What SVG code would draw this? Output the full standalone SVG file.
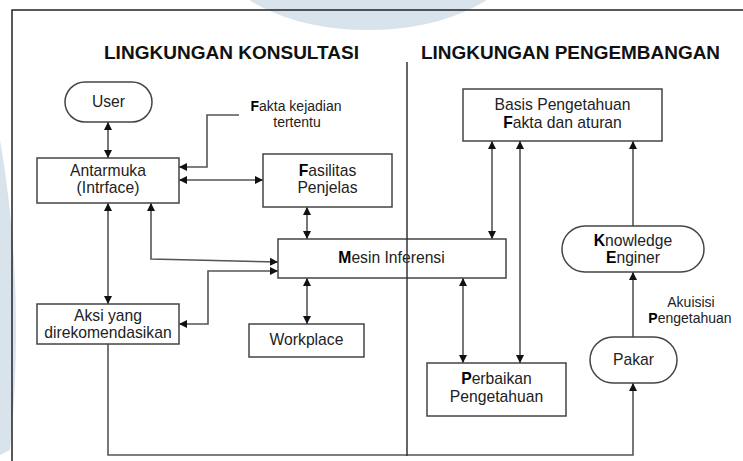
<svg xmlns="http://www.w3.org/2000/svg" width="743" height="461" viewBox="0 0 743 461">
<style>
.box{fill:#fff;stroke:#444;stroke-width:1.5}
.t{font-family:"Liberation Sans",Arial,sans-serif;font-size:15.7px;fill:#222;text-anchor:middle}
.s{font-family:"Liberation Sans",Arial,sans-serif;font-size:14px;fill:#222;text-anchor:middle}
.h{font-family:"Liberation Sans",Arial,sans-serif;font-size:18.5px;font-weight:bold;fill:#111}
.c{fill:none;stroke:#555;stroke-width:1.6}
.b{font-weight:bold;fill:#000}
.wm{fill:#d9e3ec}
</style>
<defs>
<marker id="ah" markerUnits="userSpaceOnUse" markerWidth="9" markerHeight="9" refX="8" refY="4" orient="auto-start-reverse" viewBox="0 0 9 8">
<path d="M0,0 L8,4 L0,8 z" fill="#111"/>
</marker>
</defs>
<rect width="743" height="461" fill="#fff"/>
<g id="watermark">
<ellipse class="wm" cx="368" cy="-50" rx="152" ry="80"/>
<path class="wm" d="M0,140 Q26,290 10,450 L0,455 Z"/>
</g>
<g id="frame" fill="none" stroke="#222" stroke-width="1.5">
<path d="M12,461 V10 H743"/>
</g>
<g id="headings">
<text class="h" x="104" y="59" textLength="255" lengthAdjust="spacingAndGlyphs">LINGKUNGAN KONSULTASI</text>
<text class="h" x="421" y="59" textLength="299" lengthAdjust="spacingAndGlyphs">LINGKUNGAN PENGEMBANGAN</text>
</g>
<g id="connectors">
<path class="c" d="M108,122 V158" marker-start="url(#ah)" marker-end="url(#ah)"/>
<path class="c" d="M239,115 H207 V167 H179" marker-end="url(#ah)"/>
<path class="c" d="M179,180 H263" marker-start="url(#ah)" marker-end="url(#ah)"/>
<path class="c" d="M307,207 V239" marker-start="url(#ah)" marker-end="url(#ah)"/>
<path class="c" d="M108,203 V304" marker-start="url(#ah)" marker-end="url(#ah)"/>
<path class="c" d="M151,203 V259 L278,262" marker-start="url(#ah)" marker-end="url(#ah)"/>
<path class="c" d="M179,324 H208 V271 H278" marker-start="url(#ah)" marker-end="url(#ah)"/>
<path class="c" d="M307,278 V324" marker-start="url(#ah)" marker-end="url(#ah)"/>
<path class="c" d="M108,344 V455 H633 V383" marker-end="url(#ah)"/>
<path class="c" d="M492,141 V239" marker-start="url(#ah)" marker-end="url(#ah)"/>
<path class="c" d="M520,141 V363" marker-start="url(#ah)" marker-end="url(#ah)"/>
<path class="c" d="M463,278 V363" marker-start="url(#ah)" marker-end="url(#ah)"/>
<path class="c" d="M633,226 V141" marker-end="url(#ah)"/>
<path class="c" d="M633,337 V272" marker-end="url(#ah)"/>
</g>
<g id="user">
<rect class="box" x="65" y="82" width="87" height="40" rx="20" ry="20"/>
<text class="t" x="108.5" y="107">User</text>
</g>
<g id="antarmuka">
<rect class="box" x="37" y="158" width="142" height="45"/>
<text class="t" x="108" y="176">Antarmuka</text>
<text class="t" x="108" y="193">(Intrface)</text>
</g>
<g id="fakta-label">
<text class="s" x="296" y="111"><tspan class="b">F</tspan>akta kejadian</text>
<text class="s" x="297" y="127">tertentu</text>
</g>
<g id="fasilitas">
<rect class="box" x="263" y="154" width="129" height="53"/>
<text class="t" x="327.5" y="176"><tspan class="b">F</tspan>asilitas</text>
<text class="t" x="327.5" y="193">Penjelas</text>
</g>
<g id="mesin">
<rect class="box" x="278" y="239" width="228" height="39"/>
<text class="t" x="391.5" y="263"><tspan class="b">M</tspan>esin Inferensi</text>
</g>
<g id="aksi">
<rect class="box" x="37" y="304" width="142" height="40"/>
<text class="t" x="108" y="321">Aksi yang</text>
<text class="t" x="108" y="338">direkomendasikan</text>
</g>
<g id="workplace">
<rect class="box" x="249" y="324" width="115" height="33"/>
<text class="t" x="306.5" y="345">Workplace</text>
</g>
<g id="basis">
<rect class="box" x="463" y="89" width="199" height="52"/>
<text class="t" x="562.5" y="110">Basis Pengetahuan</text>
<text class="t" x="562.5" y="128"><tspan class="b">F</tspan>akta dan aturan</text>
</g>
<g id="knowledge-engineer">
<rect class="box" x="562" y="226" width="142" height="46" rx="23" ry="23"/>
<text class="t" x="633" y="246"><tspan class="b">K</tspan>nowledge</text>
<text class="t" x="633" y="263"><tspan class="b">E</tspan>nginer</text>
</g>
<g id="akuisisi-label">
<text class="s" x="691" y="307">Akuisisi</text>
<text class="s" x="690" y="323"><tspan class="b">P</tspan>engetahuan</text>
</g>
<g id="pakar">
<rect class="box" x="590" y="337" width="87" height="46" rx="23" ry="23"/>
<text class="t" x="633.5" y="365">Pakar</text>
</g>
<g id="perbaikan">
<rect class="box" x="427" y="363" width="139" height="53"/>
<text class="t" x="496.5" y="384"><tspan class="b">P</tspan>erbaikan</text>
<text class="t" x="496.5" y="402">Pengetahuan</text>
</g>
<g id="divider" fill="none" stroke="#333" stroke-width="1.5">
<path d="M407,62 V456"/>
</g>
</svg>
